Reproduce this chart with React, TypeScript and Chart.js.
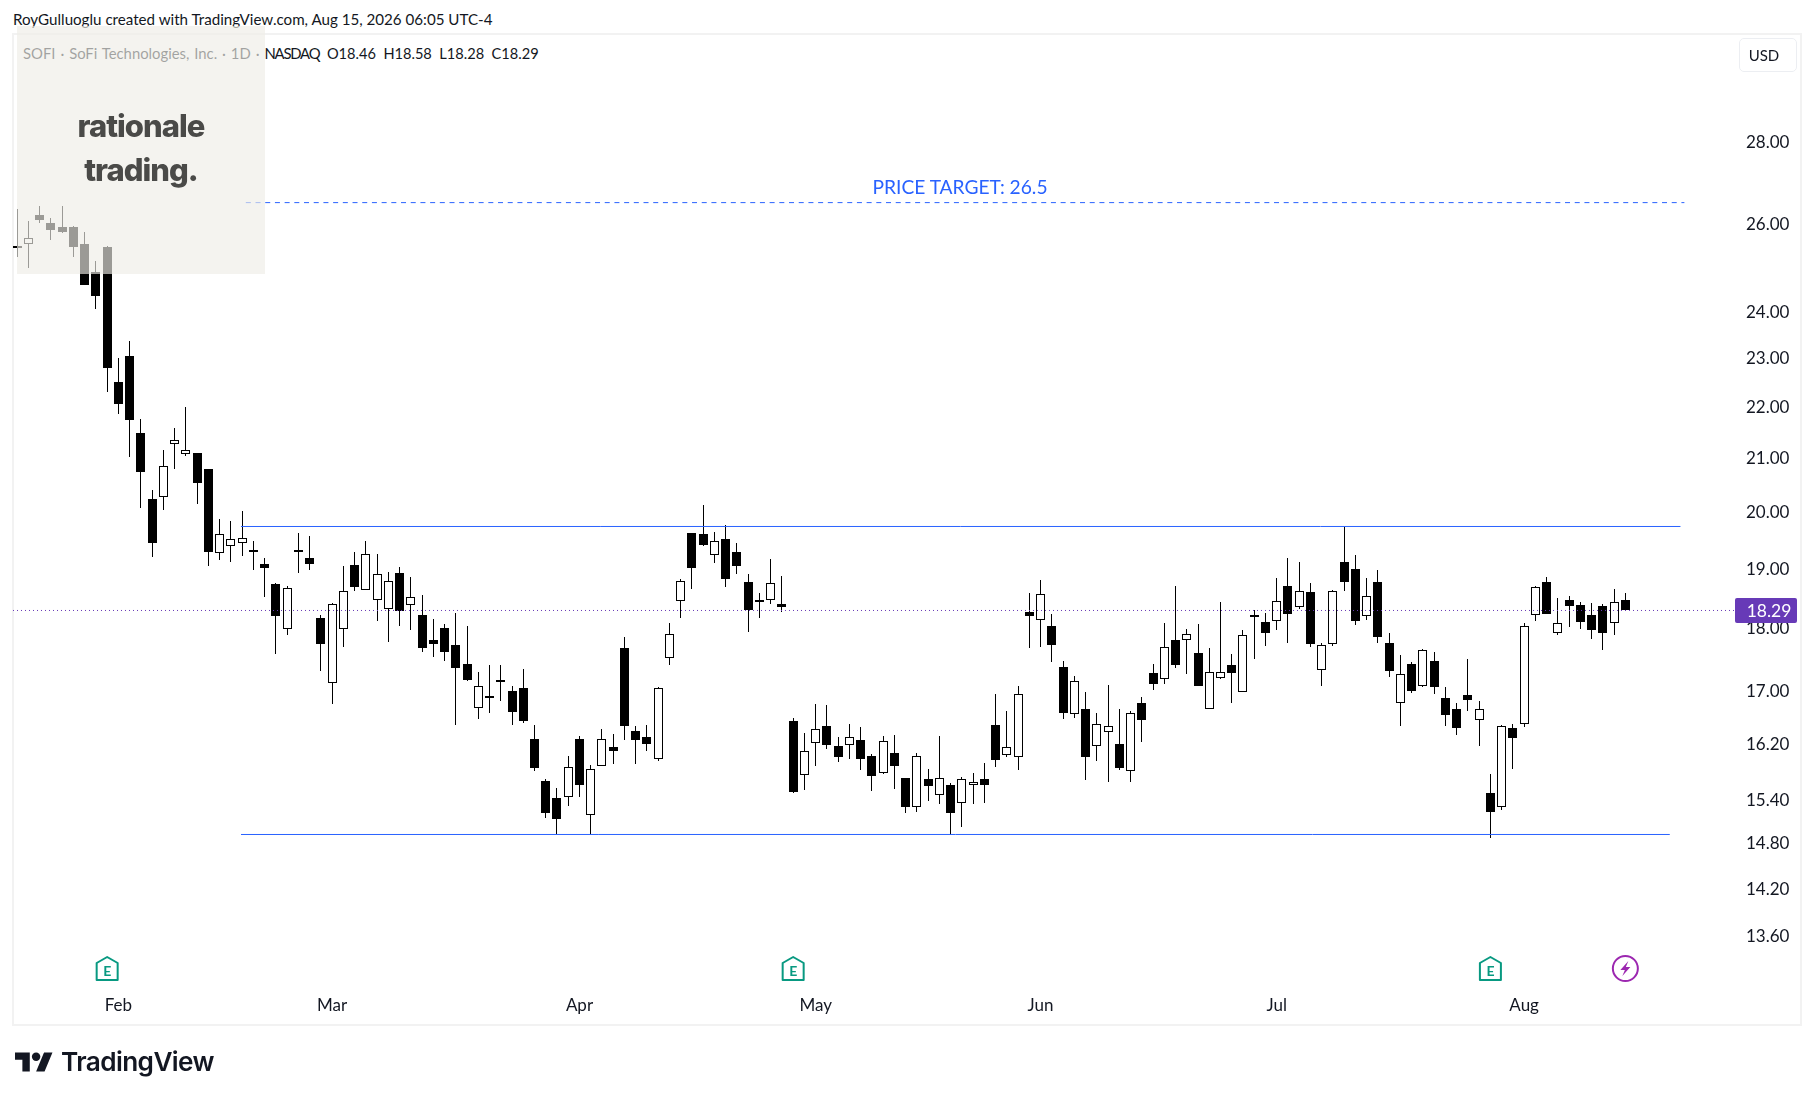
import React, { useEffect, useRef } from "react";
import { Chart, registerables } from "chart.js";

Chart.register(...registerables);

const opens = [25.44,25.51,26.20,26.01,25.92,25.92,25.52,24.88,25.45,22.51,23.05,21.49,20.24,20.28,21.28,21.09,21.10,20.80,19.27,19.40,19.45,19.32,19.08,18.73,17.99,19.28,19.18,18.16,17.13,17.99,19.06,18.64,18.47,18.32,18.92,18.38,18.21,17.80,18.00,17.72,17.42,16.74,16.89,17.14,17.00,17.04,16.27,15.66,15.42,15.44,16.27,15.18,15.88,16.15,17.67,16.39,16.30,15.98,17.52,18.45,19.62,19.60,19.24,19.51,19.29,18.77,18.43,18.47,18.39,16.54,15.75,16.22,16.47,16.17,16.19,16.26,16.02,15.78,16.07,15.71,15.30,15.69,15.47,15.61,15.36,15.61,15.69,16.48,16.04,16.01,18.26,18.13,18.03,17.37,16.65,16.72,16.17,16.38,16.20,15.81,16.81,17.28,17.19,17.80,17.81,17.59,16.73,17.20,17.40,16.99,18.18,18.10,18.12,18.70,18.34,18.60,17.33,17.74,19.11,18.99,18.20,18.77,17.75,16.82,17.42,17.07,17.47,16.89,16.72,16.94,16.55,15.49,15.30,16.44,16.50,18.22,18.77,17.92,18.46,18.38,18.21,18.36,18.08,18.46];
const highs = [26.34,26.06,26.41,26.14,26.41,25.94,25.80,25.13,25.47,23.00,23.36,21.76,20.40,21.16,21.59,22.00,21.10,20.80,19.87,19.84,20.02,19.48,19.18,18.75,18.71,19.62,19.57,18.21,18.41,19.04,19.29,19.48,19.25,18.94,19.02,18.85,18.55,18.15,18.06,18.25,18.03,17.29,17.40,17.40,17.07,17.34,16.48,15.69,15.56,16.02,16.32,15.89,16.42,16.35,17.85,16.47,16.48,17.06,18.08,18.82,19.62,20.13,19.64,19.76,19.44,18.90,18.58,19.16,18.87,16.59,16.36,16.80,16.78,16.30,16.49,16.45,16.05,16.32,16.33,15.71,16.07,15.84,16.32,15.64,15.72,15.78,15.92,16.95,16.69,17.07,18.58,18.80,18.23,17.47,17.23,16.98,16.66,17.09,16.72,16.69,16.90,17.42,18.08,18.70,17.98,18.06,17.67,18.43,17.58,17.97,18.30,18.25,18.84,19.18,19.11,18.75,17.75,18.63,19.73,19.23,18.84,18.97,17.92,17.56,17.45,17.66,17.61,17.06,16.81,17.50,16.84,15.76,16.48,16.49,18.08,18.71,18.85,18.50,18.53,18.43,18.41,18.39,18.65,18.58];
const lows = [25.23,24.97,26.02,25.61,25.78,25.23,24.58,24.06,22.31,21.86,21.02,20.07,19.20,20.04,20.80,21.04,20.15,19.04,19.15,19.11,19.22,18.97,18.51,17.58,17.88,18.92,18.97,17.31,16.80,17.69,18.61,18.63,18.11,17.77,18.03,17.97,17.61,17.53,17.47,16.48,17.15,16.57,16.66,16.84,16.48,16.51,15.81,15.15,14.92,15.31,15.44,14.93,15.88,15.91,16.26,15.91,16.10,15.95,17.40,18.16,18.65,19.39,19.10,18.68,18.90,17.93,18.16,18.39,18.27,15.49,15.54,15.88,16.13,15.94,15.98,15.82,15.52,15.76,15.55,15.21,15.23,15.38,15.34,14.91,15.02,15.34,15.35,15.86,16.01,15.82,17.67,17.69,17.45,16.57,16.59,15.68,15.95,15.65,15.82,15.65,16.23,17.01,17.11,17.36,17.26,17.07,16.72,17.18,16.81,16.98,17.50,17.71,17.97,17.75,18.31,17.69,17.07,17.71,18.61,18.05,18.13,17.75,17.21,16.47,16.97,17.06,16.95,16.47,16.33,16.69,16.17,14.87,15.26,15.84,16.45,18.11,18.23,17.88,18.02,17.98,17.82,17.64,17.88,18.28];
const closes = [25.48,25.65,26.08,25.85,25.80,25.45,24.58,24.34,22.80,22.06,21.75,20.74,19.44,20.85,21.35,21.17,20.53,19.29,19.60,19.51,19.53,19.29,19.01,18.20,18.66,19.29,19.08,17.74,18.39,18.61,18.68,19.25,18.90,18.78,18.28,18.52,17.67,17.74,17.61,17.36,17.17,17.07,16.90,17.15,16.68,16.54,15.85,15.21,15.13,15.87,15.61,15.84,16.27,16.10,16.47,16.26,16.20,17.04,17.90,18.78,19.01,19.41,19.49,18.82,19.04,18.30,18.44,18.76,18.34,15.51,16.09,16.42,16.18,16.01,16.30,15.98,15.74,16.25,15.88,15.30,16.02,15.59,15.70,15.21,15.69,15.65,15.61,15.96,16.16,16.96,18.20,18.57,17.72,16.66,17.15,16.01,16.49,16.46,15.85,16.66,16.56,17.11,17.70,17.40,17.90,17.07,17.29,17.30,17.28,17.88,18.19,17.92,18.44,18.23,18.61,17.74,17.72,18.61,18.77,18.11,18.54,17.85,17.31,17.27,17.00,17.64,17.06,16.63,16.44,16.86,16.73,15.23,16.46,16.29,18.03,18.69,18.23,18.09,18.36,18.10,17.97,17.92,18.43,18.29];

const monthLabels = ["Feb", "Mar", "Apr", "May", "Jun", "Jul", "Aug"];
const monthIndexes = [9, 28, 50, 71, 91, 112, 134];
const priceTicks = [28, 26, 24, 23, 22, 21, 20, 19, 18, 17, 16.2, 15.4, 14.8, 14.2, 13.6];
const earningsIndexes = [8, 69, 131];
const dividendIndexes = [143];

const resistanceLevel = 19.741;
const resistanceSpan = [19.9, 147.9];
const supportLevel = 14.92;
const supportSpan = [19.9, 146.95];
const targetLevel = 26.5;
const targetSpan = [20.33, 148.25];

const yMin = 13.012;
const yMax = 30.89;
const xMin = -0.3735;
const xMax = 152.75;

const UI_FONT = "Lato, 'Noto Sans', sans-serif";
const BLUE = "#2962FF";
const PURPLE = "#673AB7";

const crispBars = {
  id: "crispBars",
  beforeDatasetsDraw(chart: any) {
    chart.data.datasets.forEach((ds: any, i: number) => {
      if (ds.type !== "bar") return;
      chart.getDatasetMeta(i).data.forEach((el: any) => {
        el.x = Math.floor(el.x) + 0.5;
        el.y = Math.round(el.y);
        el.base = Math.round(el.base);
      });
    });
  },
};

const decorations = {
  id: "decorations",
  afterDraw(chart: any) {
    const { ctx, scales } = chart;
    const last = closes[closes.length - 1];
    const py = scales.y.getPixelForValue(last);
    ctx.save();
    // last price tag
    ctx.fillStyle = PURPLE;
    ctx.beginPath();
    ctx.roundRect(chart.chartArea.right, Math.round(py) - 12, 62, 25, 2);
    ctx.fill();
    ctx.fillStyle = "#ffffff";
    ctx.font = `17.5px ${UI_FONT}`;
    ctx.textAlign = "center";
    ctx.textBaseline = "middle";
    ctx.fillText(last.toFixed(2), chart.chartArea.right + 34, Math.round(py) + 1);
    // earnings flags
    earningsIndexes.forEach((i) => {
      const x = scales.x.getPixelForValue(i);
      ctx.strokeStyle = "#089981";
      ctx.lineWidth = 2;
      ctx.lineJoin = "round";
      ctx.beginPath();
      ctx.moveTo(x, 957);
      ctx.lineTo(x + 10.5, 963);
      ctx.lineTo(x + 10.5, 980);
      ctx.lineTo(x - 10.5, 980);
      ctx.lineTo(x - 10.5, 963);
      ctx.closePath();
      ctx.stroke();
      ctx.fillStyle = "#089981";
      ctx.font = `bold 14px ${UI_FONT}`;
      ctx.fillText("E", x, 971);
    });
    // dividend / event badge
    dividendIndexes.forEach((i) => {
      const x = scales.x.getPixelForValue(i);
      ctx.strokeStyle = "#9C27B0";
      ctx.fillStyle = "#9C27B0";
      ctx.lineWidth = 2;
      ctx.beginPath();
      ctx.arc(x, 968.5, 12.5, 0, Math.PI * 2);
      ctx.stroke();
      ctx.beginPath();
      ctx.moveTo(x + 3, 961);
      ctx.lineTo(x - 5, 970);
      ctx.lineTo(x - 0.5, 970);
      ctx.lineTo(x - 3, 976);
      ctx.lineTo(x + 5, 967);
      ctx.lineTo(x + 0.5, 967);
      ctx.closePath();
      ctx.fill();
    });
    ctx.restore();
  },
};

const textStyle: React.CSSProperties = {
  position: "absolute",
  fontFamily: UI_FONT,
  color: "#131722",
  whiteSpace: "pre",
  lineHeight: 1,
};

export default function App() {
  const ref = useRef<HTMLCanvasElement | null>(null);

  useEffect(() => {
    if (!ref.current) return;
    const chart = new Chart(ref.current, {
      data: {
        datasets: [
          {
            type: "line",
            label: "Target",
            data: targetSpan.map((x) => ({ x, y: targetLevel })),
            borderColor: BLUE,
            borderWidth: 1,
            borderDash: [5, 4.7],
            pointRadius: 0,
            order: 0,
          },
          {
            type: "line",
            label: "Resistance",
            data: resistanceSpan.map((x) => ({ x, y: resistanceLevel })),
            borderColor: BLUE,
            borderWidth: 1,
            pointRadius: 0,
            order: 0,
          },
          {
            type: "line",
            label: "Support",
            data: supportSpan.map((x) => ({ x, y: supportLevel })),
            borderColor: BLUE,
            borderWidth: 1,
            pointRadius: 0,
            order: 0,
          },
          {
            type: "line",
            label: "Last",
            data: [xMin, xMax].map((x) => ({ x, y: closes[closes.length - 1] })),
            borderColor: PURPLE,
            borderWidth: 1,
            borderDash: [1, 3],
            pointRadius: 0,
            order: 0,
          },
          {
            type: "bar",
            label: "Body",
            data: opens.map((o, i) => ({ x: i, y: [Math.min(o, closes[i]), Math.max(o, closes[i])] })),
            backgroundColor: opens.map((o, i) => (closes[i] >= o ? "#ffffff" : "#000000")),
            borderColor: "#000000",
            borderWidth: 1,
            borderSkipped: false,
            barThickness: 9,
            grouped: false,
            minBarLength: 2,
            inflateAmount: 0,
            order: 1,
          },
          {
            type: "bar",
            label: "Wick",
            data: lows.map((l, i) => ({ x: i, y: [l, highs[i]] })),
            backgroundColor: "#000000",
            borderWidth: 0,
            barThickness: 1,
            grouped: false,
            inflateAmount: 0,
            order: 2,
          },
        ],
      } as any,
      options: {
        responsive: false,
        animation: false,
        devicePixelRatio: 1,
        layout: { padding: { left: 13, top: 34, right: 14, bottom: 75 } },
        plugins: { legend: { display: false }, tooltip: { enabled: false } },
        scales: {
          x: {
            type: "linear",
            offset: false,
            min: xMin,
            max: xMax,
            grid: { display: false, drawTicks: false, offset: false },
            border: { display: false },
            afterBuildTicks: (s: any) => {
              s.ticks = monthIndexes.map((value) => ({ value }));
            },
            afterFit: (s: any) => {
              s.height = 40;
            },
            ticks: {
              autoSkip: false,
              maxRotation: 0,
              padding: 10,
              color: "#131722",
              font: { family: UI_FONT, size: 17 },
              callback: (v: any) => monthLabels[monthIndexes.indexOf(Number(v))] ?? "",
            },
          },
          y: {
            type: "logarithmic",
            position: "right",
            min: yMin,
            max: yMax,
            bounds: "data",
            grid: { display: false, drawTicks: false },
            border: { display: false },
            afterBuildTicks: (s: any) => {
              s.ticks = priceTicks.map((value) => ({ value }));
            },
            afterFit: (s: any) => {
              s.width = 65;
            },
            ticks: {
              autoSkip: false,
              padding: 11,
              labelOffset: 0.5,
              color: "#131722",
              font: { family: UI_FONT, size: 17 },
              callback: (v: any) => Number(v).toFixed(2),
            },
          },
        },
      } as any,
      plugins: [crispBars, decorations],
    });
    return () => chart.destroy();
  }, []);

  return (
    <div style={{ position: "absolute", left: 0, top: 0, width: 1814, height: 1100, background: "#fff", overflow: "hidden" }}>
      <div style={{ position: "absolute", left: 12, top: 33, width: 1786, height: 989, border: "2px solid #f2f2f2" }} />
      <div style={{ ...textStyle, left: 13, top: 12, fontSize: 15.15 }}>RoyGulluoglu created with TradingView.com, Aug 15, 2026 06:05 UTC-4</div>
      <div style={{ ...textStyle, left: 23, top: 46, fontSize: 14.85 }}>
        <span style={{ wordSpacing: 1.1 }}>SOFI · SoFi Technologies, Inc. · 1D · </span>
        <span style={{ letterSpacing: -1.2 }}>NASDAQ</span>
        <span>  </span>
        <span style={{ fontSize: 14.6 }}>O18.46  H18.58  L18.28  C18.29</span>
      </div>
      <canvas ref={ref} width={1814} height={1100} style={{ position: "absolute", left: 0, top: 0, width: 1814, height: 1100 }} />
      <div style={{ ...textStyle, left: 960, top: 177, fontSize: 19.2, color: BLUE, transform: "translateX(-50%)" }}>PRICE TARGET: 26.5</div>
      <div style={{ ...textStyle, left: 1739, top: 38, width: 58, height: 34, lineHeight: "32px", textAlign: "center", fontSize: 15, paddingRight: 8, border: "1px solid #eceef2", borderRadius: 5, boxSizing: "border-box" }}>USD</div>
      <div style={{ position: "absolute", left: 17, top: 26, width: 248, height: 248, background: "rgba(238,237,230,0.65)" }} />
      <div style={{ ...textStyle, left: 17, width: 248, top: 104, textAlign: "center", fontFamily: "Inter, sans-serif", fontWeight: 800, fontSize: 31, letterSpacing: -1, color: "#4a4a48", lineHeight: "44px" }}>
        rationale{"\n"}trading.
      </div>
      <svg style={{ position: "absolute", left: 15, top: 1048 }} width={38} height={30} viewBox="0 0 36 28">
        <path d="M14 22H7V11H0V4h14v18zM28 22h-8l7.5-18h8L28 22z" fill="#131722" />
        <circle cx="20" cy="8" r="4" fill="#131722" />
      </svg>
      <div style={{ ...textStyle, left: 61, top: 1049, fontSize: 26.2, fontWeight: 600, fontFamily: "Inter, sans-serif", letterSpacing: -0.6 }}>TradingView</div>
    </div>
  );
}
